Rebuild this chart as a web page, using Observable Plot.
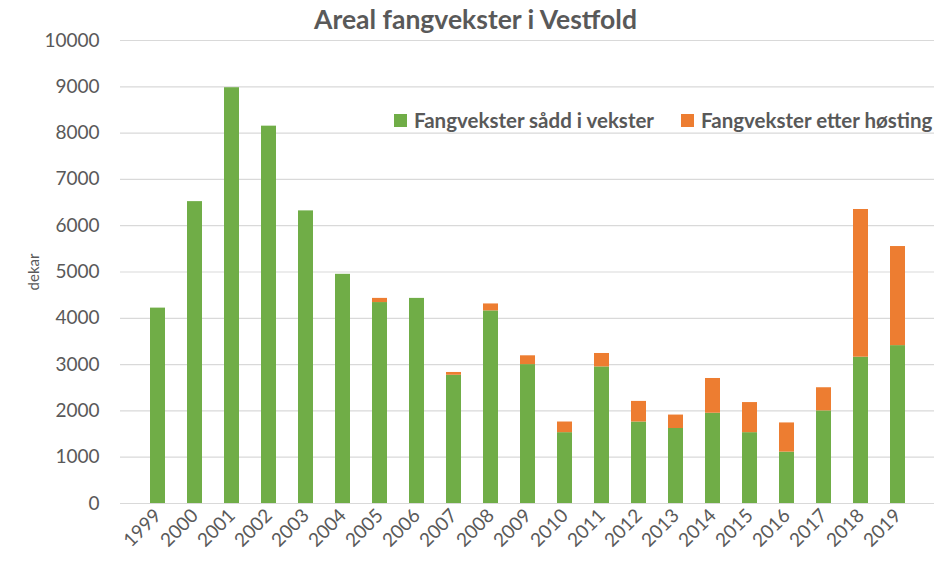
<!DOCTYPE html>
<html>
<head>
<meta charset="utf-8">
<script src="https://cdn.jsdelivr.net/npm/d3@7"></script>
<script src="https://cdn.jsdelivr.net/npm/@observablehq/plot@0.6"></script>
<style>
  body { margin: 0; background: #fff; font-family: Lato, "Open Sans", sans-serif; }
  #wrap { position: relative; width: 951px; height: 562px; }
  #title { height: 16px; line-height: 38px; overflow: visible; text-align: center; font-size: 26.5px; font-weight: bold; color: #595959; position: relative; z-index: 2; }
  #legend { position: absolute; top: 108px; left: 394px; display: flex; gap: 27px; font-size: 20.5px; font-weight: bold; color: #595959; white-space: nowrap; }
  #legend span.item { display: flex; align-items: center; }
  #legend span.sw { display: inline-block; width: 13px; height: 13px; margin-right: 7px; }
</style>
</head>
<body>
<div id="wrap">
  <div id="title">Areal fangvekster i Vestfold</div>
  <div id="chart"></div>
  <div id="legend"></div>
</div>
<script>
const years = ["1999","2000","2001","2002","2003","2004","2005","2006","2007","2008","2009","2010","2011","2012","2013","2014","2015","2016","2017","2018","2019"];
const seriesNames = ["Fangvekster sådd i vekster", "Fangvekster etter høsting"];
const sadd = [4220,6520,8980,8150,6320,4950,4340,4430,2770,4160,3000,1530,2950,1760,1620,1950,1530,1110,2000,3160,3410];
const etter = [0,0,0,0,0,0,90,0,60,150,190,230,290,445,290,750,650,630,500,3190,2140];
const colors = ["#70ad47", "#ed7d31"];
const yTicks = [0,1000,2000,3000,4000,5000,6000,7000,8000,9000,10000];

const data = [];
years.forEach((y, i) => {
  data.push({year: y, series: seriesNames[0], value: sadd[i]});
  data.push({year: y, series: seriesNames[1], value: etter[i]});
});

const chart = Plot.plot({
  width: 951,
  height: 546,
  marginLeft: 120,
  marginRight: 17,
  marginTop: 24,
  marginBottom: 59,
  style: {fontFamily: "Lato, 'Open Sans', sans-serif", fontSize: "19px", color: "#595959", background: "transparent"},
  x: {domain: years, padding: 0.6, label: null},
  y: {domain: [0, 10000], label: null},
  color: {domain: seriesNames, range: colors},
  marks: [
    Plot.gridY(yTicks, {stroke: "#d9d9d9", strokeOpacity: 1, strokeWidth: 1.2}),
    Plot.barY(data, {x: "year", y: "value", fill: "series", order: seriesNames}),
    Plot.axisY(yTicks, {tickSize: 0, tickPadding: 21, tickFormat: "d", fontSize: 19, fill: "#595959",
      label: "dekar", labelAnchor: "center", labelOffset: 92, labelArrow: "none"}),
    Plot.axisX({tickSize: 0, tickRotate: -45, tickPadding: 9, fontSize: 19, fill: "#595959", label: null})
  ]
});
document.getElementById("chart").appendChild(chart);

chart.querySelectorAll("text").forEach(t => {
  if (t.textContent === "dekar") { t.setAttribute("font-size", "15"); }
});

const legend = document.getElementById("legend");
seriesNames.forEach((name, i) => {
  const item = document.createElement("span");
  item.className = "item";
  const sw = document.createElement("span");
  sw.className = "sw";
  sw.style.background = colors[i];
  item.appendChild(sw);
  item.appendChild(document.createTextNode(name));
  legend.appendChild(item);
});
</script>
</body>
</html>
